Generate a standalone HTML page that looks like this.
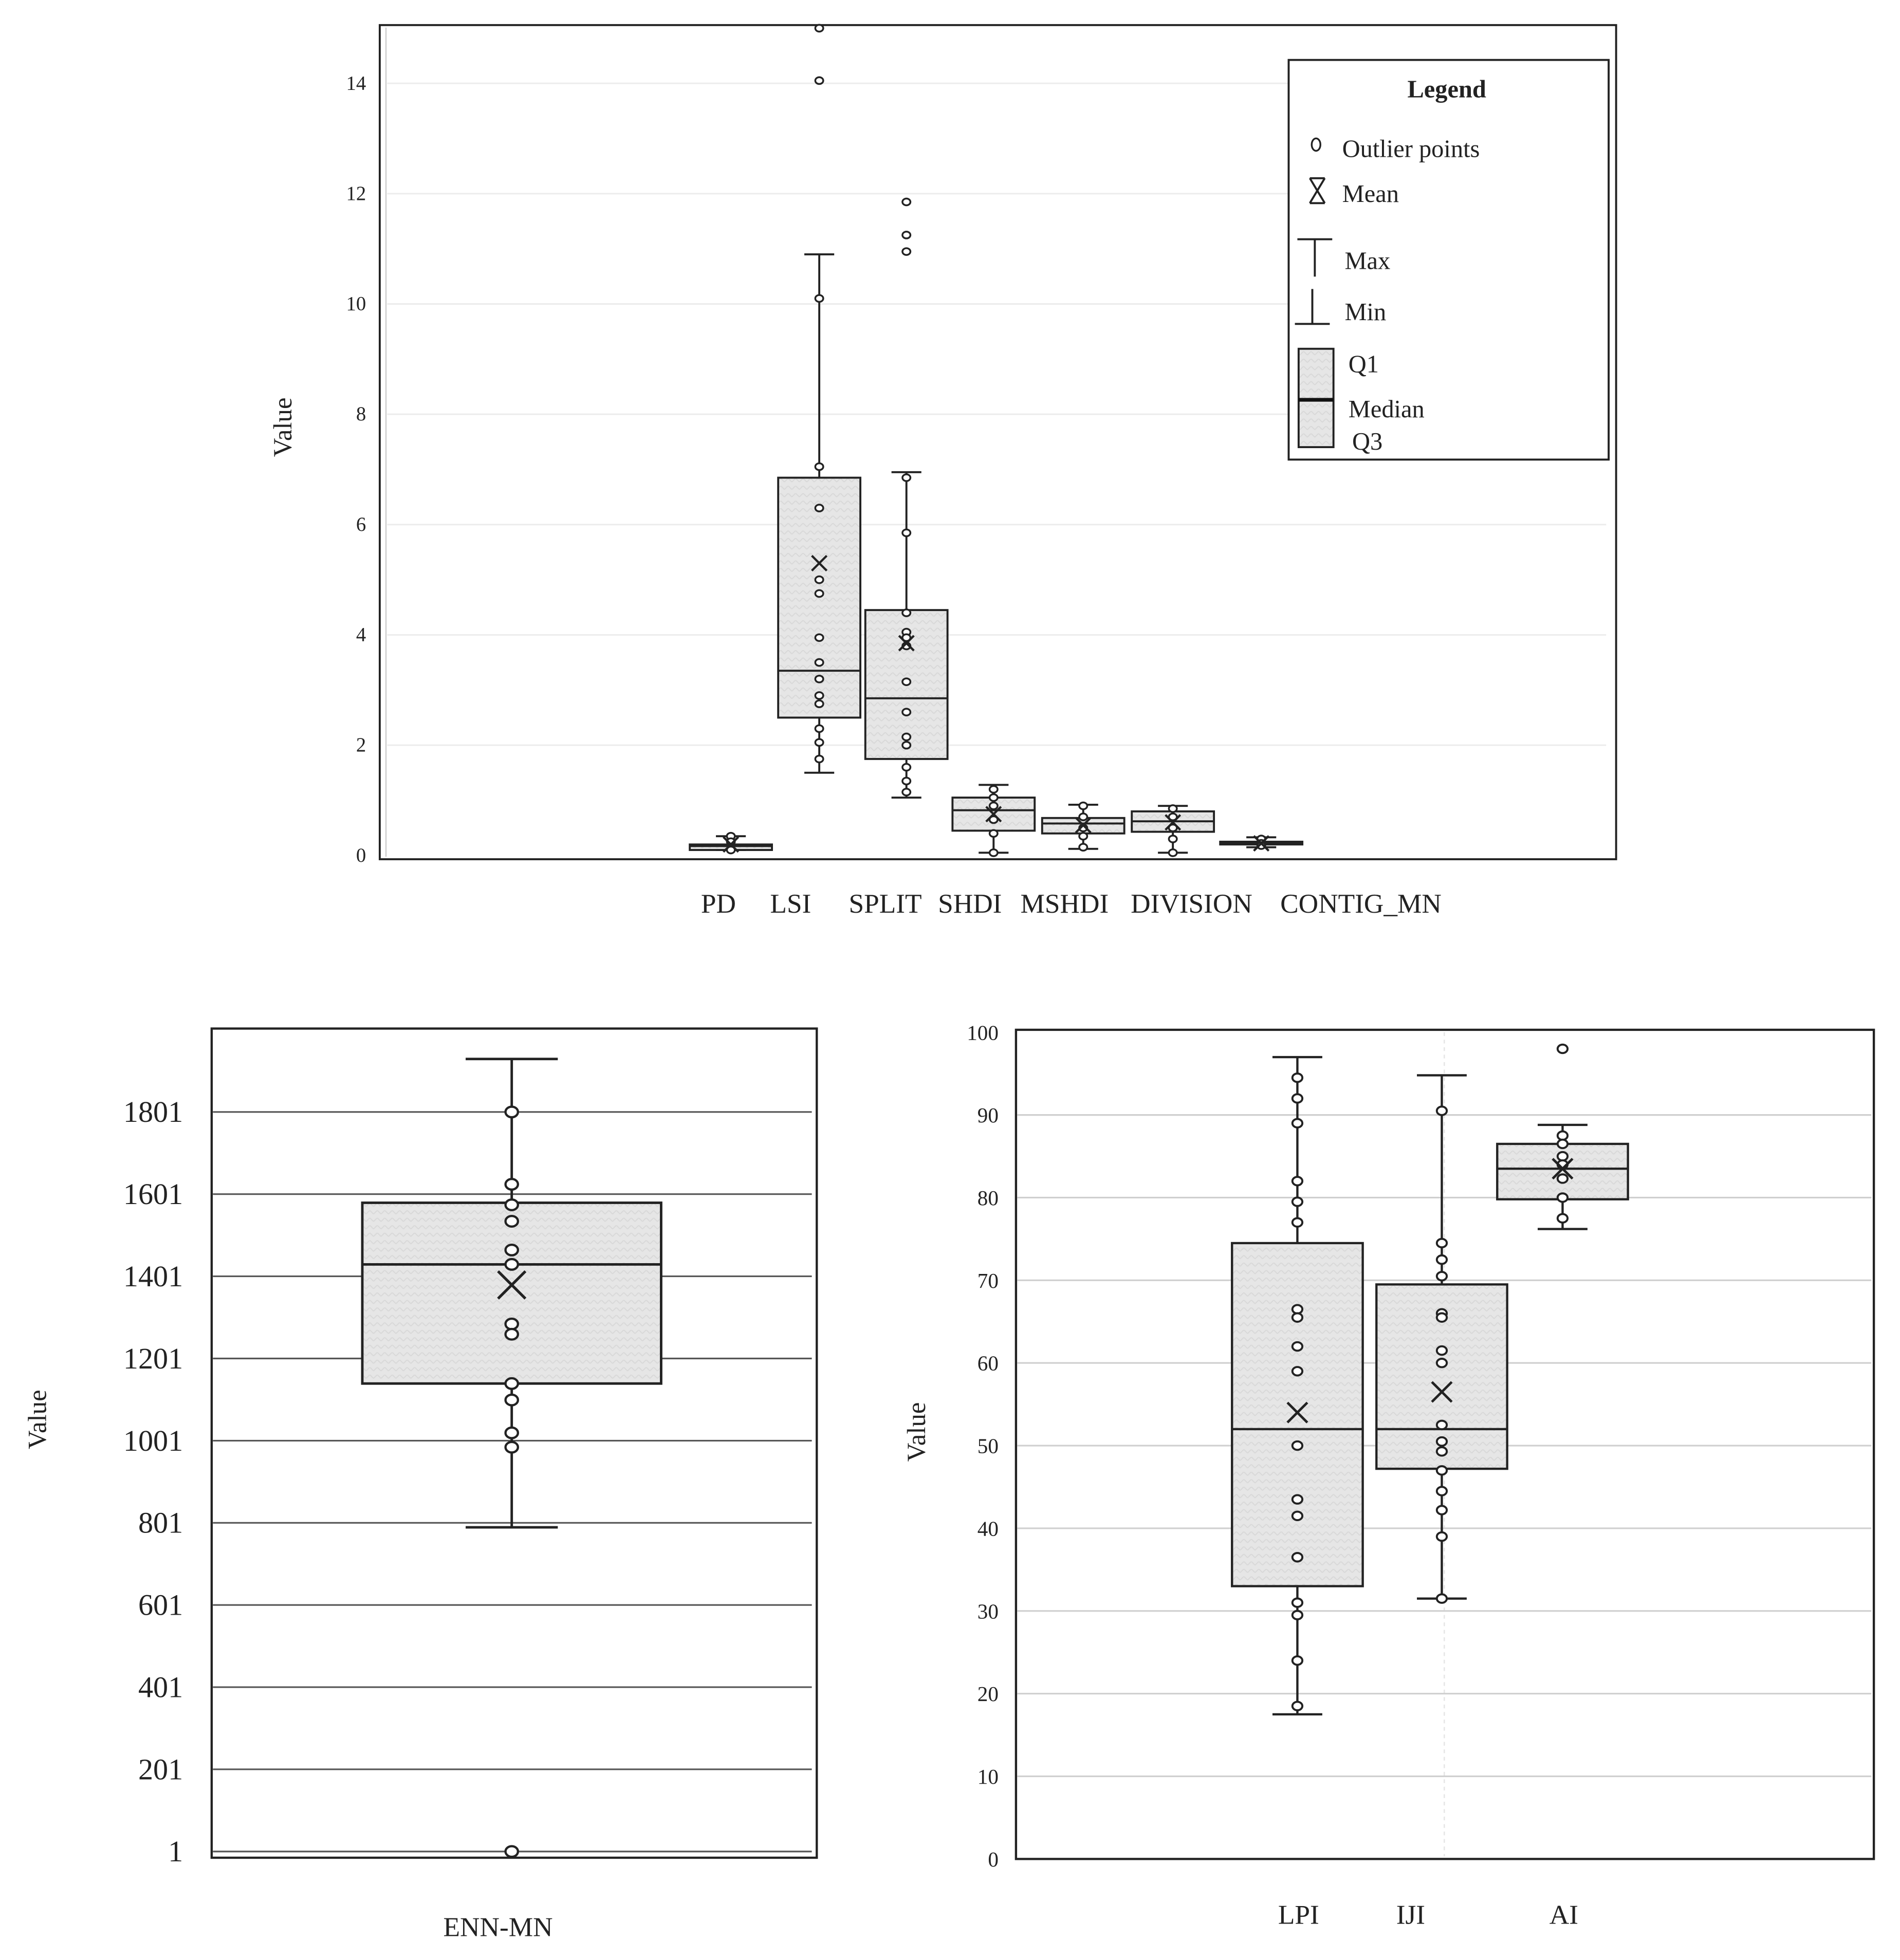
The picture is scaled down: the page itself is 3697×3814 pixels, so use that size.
<!DOCTYPE html>
<html><head><meta charset="utf-8"><style>
html,body{margin:0;padding:0;background:#fff;}
svg{display:block;font-family:"Liberation Serif",serif;}
</style></head><body>
<svg id="fig" xmlns="http://www.w3.org/2000/svg" width="3697" height="3814" viewBox="0 0 1526 1574">
<defs>
<pattern id="hatch" width="6" height="6" patternUnits="userSpaceOnUse"><rect width="6" height="6" fill="#e6e6e6"/><path d="M0 3 L3 0 L6 3" stroke="#d8d8d8" stroke-width="0.8" fill="none"/></pattern>
</defs>
<g id="top"></g>
<g id="bl"></g>
<g id="br"></g>
</svg>
<script>
// ---- top chart data ----
const topCats = ["PD","LSI","SPLIT","SHDI","MSHDI","DIVISION","CONTIG_MN"];
const topMin = [0.1,1.5,1.05,0.05,0.12,0.05,0.15];
const topQ1 = [0.1,2.5,1.75,0.45,0.4,0.43,0.2];
const topMed = [0.17,3.35,2.85,0.82,0.58,0.62,0.22];
const topQ3 = [0.2,6.85,4.45,1.05,0.68,0.8,0.25];
const topMax = [0.35,10.9,6.95,1.28,0.92,0.9,0.33];
const topMean = [0.2,5.3,3.85,0.75,0.55,0.6,0.22];
const topPts = [
 [0.35,0.25,0.1],
 [15,14.05,10.1,7.05,6.3,5.0,4.75,3.95,3.5,3.2,2.9,2.75,2.3,2.05,1.75],
 [11.85,11.25,10.95,6.85,5.85,4.4,4.05,3.95,3.8,3.15,2.6,2.15,2.0,1.6,1.35,1.15],
 [1.2,1.05,0.9,0.65,0.4,0.05],
 [0.9,0.7,0.5,0.35,0.15],
 [0.85,0.7,0.5,0.3,0.05],
 [0.3,0.22,0.18]];
const topTicks = [0,2,4,6,8,10,12,14];
// ---- bottom-left data ----
const ennCats = ["ENN-MN"];
const ennMin=[790], ennQ1=[1140], ennMed=[1430], ennQ3=[1580], ennMax=[1930], ennMean=[1380];
const ennPts=[[1801,1625,1575,1535,1465,1430,1285,1260,1140,1100,1020,985,1]];
const ennTicks=[1,201,401,601,801,1001,1201,1401,1601,1801];
// ---- bottom-right data ----
const brCats=["LPI","IJI","AI"];
const brMin=[17.5,31.5,76.2], brQ1=[33,47.2,79.8], brMed=[52,52,83.5], brQ3=[74.5,69.5,86.5], brMax=[97,94.8,88.8], brMean=[54,56.5,83.5];
const brPts=[
 [94.5,92,89,82,79.5,77,66.5,65.5,62,59,50,43.5,41.5,36.5,31,29.5,24,18.5],
 [90.5,74.5,72.5,70.5,66,65.5,61.5,60,52.5,50.5,49.3,47,44.5,42.2,39,31.5],
 [98,87.5,86.5,85,84,82.3,80,77.5]];
const brTicks=[0,10,20,30,40,50,60,70,80,90,100];

const NS="http://www.w3.org/2000/svg";
function mk(parent,tag,attrs,name,text){
  const e=document.createElementNS(NS,tag);
  for(const k in attrs)e.setAttribute(k,attrs[k]);
  
  
  if(text!==undefined)e.textContent=text;
  parent.appendChild(e);return e;
}
function boxes(g,o){
  const y=o.y;
  o.cats.forEach((c,i)=>{
    const cx=o.cx[i],w=o.bw,h=o.cap;
    mk(g,'line',{x1:cx,x2:cx,y1:y(o.max[i]),y2:y(o.min[i]),stroke:'#222','stroke-width':o.sw},'whisker-'+c);
    mk(g,'line',{x1:cx-h,x2:cx+h,y1:y(o.max[i]),y2:y(o.max[i]),stroke:'#222','stroke-width':o.sw},'max-cap-'+c);
    mk(g,'line',{x1:cx-h,x2:cx+h,y1:y(o.min[i]),y2:y(o.min[i]),stroke:'#222','stroke-width':o.sw},'min-cap-'+c);
    mk(g,'rect',{x:cx-w/2,y:y(o.q3[i]),width:w,height:Math.max(1,y(o.q1[i])-y(o.q3[i])),fill:'url(#hatch)',stroke:'#222','stroke-width':o.sw},'box-'+c);
    mk(g,'line',{x1:cx-w/2,x2:cx+w/2,y1:y(o.med[i]),y2:y(o.med[i]),stroke:'#222','stroke-width':o.sw},'median-'+c);
    o.pts[i].forEach(v=>{
      mk(g,'ellipse',{cx:cx,cy:y(v),rx:o.pr,ry:o.pr*0.85,fill:'#fff',stroke:'#222','stroke-width':o.sw*0.9},'point-'+c);
    });
    const m=o.mk,my=y(o.mean[i]);
    mk(g,'path',{d:`M${cx-m} ${my-m}L${cx+m} ${my+m}M${cx+m} ${my-m}L${cx-m} ${my+m}`,stroke:'#222','stroke-width':o.sw*1.1,fill:'none'},'mean-'+c);
  });
}
// TOP
(function(){
  const g=document.getElementById('top');
  const y=v=>687-v*44.3;
  mk(g,'rect',{x:305,y:20,width:993,height:670,fill:'#fff',stroke:'#222','stroke-width':1.6},'plot-frame');
  mk(g,'line',{x1:310,x2:310,y1:22,y2:688,stroke:'#ccc','stroke-width':1},'y-axis-line');
  topTicks.forEach(t=>{
    if(t>0)mk(g,'line',{x1:311,x2:1290,y1:y(t),y2:y(t),stroke:'#ececec','stroke-width':1.2},'gridline');
    mk(g,'text',{x:294,y:y(t)+5,'text-anchor':'end','font-size':16,fill:'#222'},'y-tick-label',String(t));
  });
  mk(g,'text',{x:0,y:0,transform:'translate(234,343) rotate(-90)','text-anchor':'middle','font-size':21,fill:'#222'},'y-axis-title','Value');
  boxes(g,{cats:topCats,cx:[587,658,728,798,870,942,1013],bw:66,cap:12,y:y,min:topMin,q1:topQ1,med:topMed,q3:topQ3,max:topMax,mean:topMean,pts:topPts,pr:3.2,sw:1.6,mk:6});
  const xl=[577,635,711,779,855,957,1093];
  topCats.forEach((c,i)=>mk(g,'text',{x:xl[i],y:733,'text-anchor':'middle','font-size':22,fill:'#222'},'x-label-'+c,c));
  // legend
  const L=mk(g,'g',{},'legend');
  mk(L,'rect',{x:1035,y:48,width:257,height:321,fill:'#fff',stroke:'#222','stroke-width':1.6},'legend-box');
  mk(L,'text',{x:1162,y:78,'text-anchor':'middle','font-size':20,'font-weight':'bold',fill:'#222'},'legend-title','Legend');
  mk(L,'ellipse',{cx:1057,cy:116,rx:3.5,ry:5,fill:'none',stroke:'#222','stroke-width':1.4},'legend-outlier-icon');
  mk(L,'text',{x:1078,y:126,'font-size':20,fill:'#222'},'legend-outlier','Outlier points');
  mk(L,'path',{d:'M1052 143L1064 163M1064 143L1052 163M1052 143H1064M1052 163H1064',stroke:'#222','stroke-width':1.6,fill:'none'},'legend-mean-icon');
  mk(L,'text',{x:1078,y:162,'font-size':20,fill:'#222'},'legend-mean','Mean');
  mk(L,'path',{d:'M1042 192H1070M1056 192V222',stroke:'#222','stroke-width':1.6,fill:'none'},'legend-max-icon');
  mk(L,'text',{x:1080,y:216,'font-size':20,fill:'#222'},'legend-max','Max');
  mk(L,'path',{d:'M1040 260H1068M1054 232V260',stroke:'#222','stroke-width':1.6,fill:'none'},'legend-min-icon');
  mk(L,'text',{x:1080,y:257,'font-size':20,fill:'#222'},'legend-min','Min');
  mk(L,'rect',{x:1043,y:280,width:28,height:79,fill:'url(#hatch)',stroke:'#222','stroke-width':1.6},'legend-box-icon');
  mk(L,'line',{x1:1043,x2:1071,y1:321,y2:321,stroke:'#111','stroke-width':3},'legend-median-icon');
  mk(L,'text',{x:1083,y:299,'font-size':20,fill:'#222'},'legend-q1','Q1');
  mk(L,'text',{x:1083,y:335,'font-size':20,fill:'#222'},'legend-median','Median');
  mk(L,'text',{x:1086,y:361,'font-size':20,fill:'#222'},'legend-q3','Q3');
})();
// BOTTOM LEFT
(function(){
  const g=document.getElementById('bl');
  const y=v=>1487-(v-1)*0.33;
  mk(g,'rect',{x:170,y:826,width:486,height:666,fill:'#fff',stroke:'#222','stroke-width':1.8},'plot-frame');
  ennTicks.forEach(t=>{
    mk(g,'line',{x1:171,x2:652,y1:y(t),y2:y(t),stroke:'#555','stroke-width':1.3},'gridline');
    mk(g,'text',{x:147,y:y(t)+8,'text-anchor':'end','font-size':24,fill:'#222'},'y-tick-label',String(t));
  });
  mk(g,'text',{x:0,y:0,transform:'translate(37,1140) rotate(-90)','text-anchor':'middle','font-size':21,fill:'#222'},'y-axis-title','Value');
  boxes(g,{cats:ennCats,cx:[411],bw:240,cap:37,y:y,min:ennMin,q1:ennQ1,med:ennMed,q3:ennQ3,max:ennMax,mean:ennMean,pts:ennPts,pr:5,sw:2,mk:11});
  mk(g,'text',{x:400,y:1555,'text-anchor':'middle','font-size':22,fill:'#222'},'x-label-ENN-MN','ENN-MN');
})();
// BOTTOM RIGHT
(function(){
  const g=document.getElementById('br');
  const y=v=>1493-v*6.64;
  mk(g,'rect',{x:816,y:827,width:689,height:666,fill:'#fff',stroke:'#222','stroke-width':1.8},'plot-frame');
  mk(g,'line',{x1:1160,x2:1160,y1:829,y2:1491,stroke:'#e4e4e4','stroke-width':1,'stroke-dasharray':'3 3'},'center-gridline');
  brTicks.forEach(t=>{
    if(t>0&&t<100)mk(g,'line',{x1:817,x2:1503,y1:y(t),y2:y(t),stroke:'#cfcfcf','stroke-width':1.3},'gridline');
    mk(g,'text',{x:802,y:y(t)+6,'text-anchor':'end','font-size':17,fill:'#222'},'y-tick-label',String(t));
  });
  mk(g,'text',{x:0,y:0,transform:'translate(743,1150) rotate(-90)','text-anchor':'middle','font-size':21,fill:'#222'},'y-axis-title','Value');
  boxes(g,{cats:brCats,cx:[1042,1158,1255],bw:105,cap:20,y:y,min:brMin,q1:brQ1,med:brMed,q3:brQ3,max:brMax,mean:brMean,pts:brPts,pr:4,sw:1.8,mk:8});
  const xl=[1043,1133,1256];
  brCats.forEach((c,i)=>mk(g,'text',{x:xl[i],y:1545,'text-anchor':'middle','font-size':22,fill:'#222'},'x-label-'+c,c));
})();
</script>
</body></html>
